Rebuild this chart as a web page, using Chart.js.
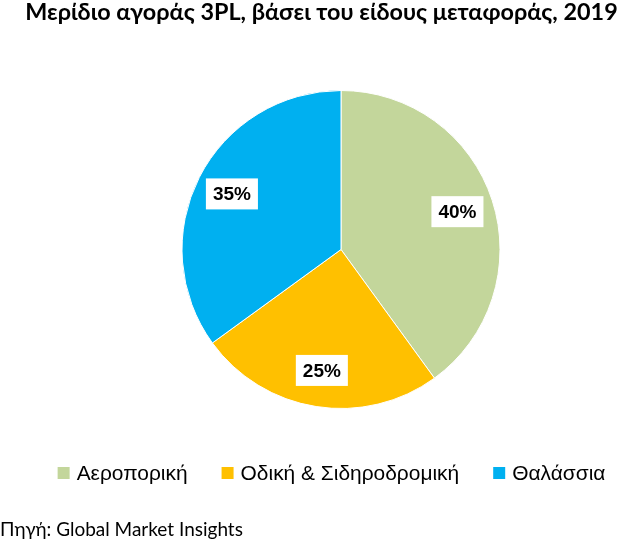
<!DOCTYPE html>
<html>
<head>
<meta charset="utf-8">
<script src="https://cdn.jsdelivr.net/npm/chart.js@4"></script>
<style>
  html, body { margin: 0; padding: 0; background: #ffffff; }
  #c { display: block; }
</style>
</head>
<body>
<canvas id="c" width="620" height="544"></canvas>
<script>
// ---- Data ----
const titleText = 'Μερίδιο αγοράς 3PL, βάσει του είδους μεταφοράς, 2019';
const sourceText = 'Πηγή: Global Market Insights';
const categories = ['Αεροπορική', 'Οδική & Σιδηροδρομική', 'Θαλάσσια'];
const shares = [40, 25, 35];
const sliceColors = ['#C3D69B', '#FFC000', '#00B0F0'];

function fitFont(ctx, text, weight, family, target) {
  ctx.font = weight + ' 100px ' + family;
  const w = ctx.measureText(text).width;
  return 100 * target / w;
}

const decorPlugin = {
  id: 'decor',
  beforeDraw(chart) {
    const ctx = chart.ctx;
    ctx.save();
    ctx.fillStyle = '#ffffff';
    ctx.fillRect(0, 0, chart.width, chart.height);
    ctx.restore();
  },
  afterDatasetsDraw(chart) {
    const ctx = chart.ctx;
    const meta = chart.getDatasetMeta(0);
    ctx.save();
    const fam = '"Liberation Sans", Arial, sans-serif';
    ctx.font = 'bold 19px ' + fam;
    ctx.textAlign = 'center';
    ctx.textBaseline = 'middle';
    meta.data.forEach((arc, i) => {
      const p = arc.getProps(['x', 'y', 'startAngle', 'endAngle', 'outerRadius'], true);
      const mid = (p.startAngle + p.endAngle) / 2;
      const r = p.outerRadius * 0.77;
      const cx = p.x + Math.cos(mid) * r;
      const cy = p.y + Math.sin(mid) * r;
      const txt = shares[i] + '%';
      const tw = ctx.measureText(txt).width;
      const bw = tw + 14, bh = 31;
      ctx.fillStyle = '#ffffff';
      ctx.fillRect(cx - bw / 2, cy - bh / 2, bw, bh);
      ctx.fillStyle = '#000000';
      ctx.fillText(txt, cx, cy + 1);
    });
    ctx.restore();
  },
  afterDraw(chart) {
    const ctx = chart.ctx;
    ctx.save();
    // Title
    const tFam = 'Lato, "Open Sans", sans-serif';
    const tSize = fitFont(ctx, titleText, 'bold', tFam, 593);
    ctx.font = 'bold ' + tSize + 'px ' + tFam;
    ctx.fillStyle = '#000000';
    ctx.textAlign = 'center';
    ctx.textBaseline = 'alphabetic';
    ctx.fillText(titleText, 321.5, 19.5);

    // Legend
    const lFam = '"Liberation Sans", Arial, sans-serif';
    const joined = categories.join('');
    const lSize = fitFont(ctx, joined, 'normal', lFam, 423);
    ctx.font = 'normal ' + lSize + 'px ' + lFam;
    const box = 12, gapText = 7, gapItem = 34;
    const widths = categories.map(c => ctx.measureText(c).width);
    let total = widths.reduce((a, b) => a + b, 0) + categories.length * (box + gapText) + (categories.length - 1) * gapItem;
    let x = 331.5 - total / 2;
    const ly = 473;
    ctx.textAlign = 'left';
    ctx.textBaseline = 'middle';
    categories.forEach((c, i) => {
      ctx.fillStyle = sliceColors[i];
      ctx.fillRect(x, ly - box / 2, box, box);
      ctx.fillStyle = '#000000';
      ctx.fillText(c, x + box + gapText, ly + 1);
      x += box + gapText + widths[i] + gapItem;
    });

    // Source
    const sFam = 'Lato, "Open Sans", sans-serif';
    const sSize = fitFont(ctx, sourceText, 'normal', sFam, 243);
    ctx.font = 'normal ' + sSize + 'px ' + sFam;
    ctx.textAlign = 'left';
    ctx.textBaseline = 'alphabetic';
    ctx.fillStyle = '#000000';
    ctx.fillText(sourceText, 0, 536);
    ctx.restore();
  }
};

new Chart(document.getElementById('c'), {
  type: 'pie',
  data: {
    labels: categories,
    datasets: [{
      data: shares,
      backgroundColor: sliceColors,
      borderColor: '#ffffff',
      borderWidth: 1,
      hoverOffset: 0
    }]
  },
  options: {
    responsive: false,
    animation: false,
    devicePixelRatio: 1,
    layout: { padding: { top: 90, bottom: 135, left: 62, right: 0 } },
    plugins: {
      legend: { display: false },
      title: { display: false },
      tooltip: { enabled: false }
    }
  },
  plugins: [decorPlugin]
});
</script>
</body>
</html>
